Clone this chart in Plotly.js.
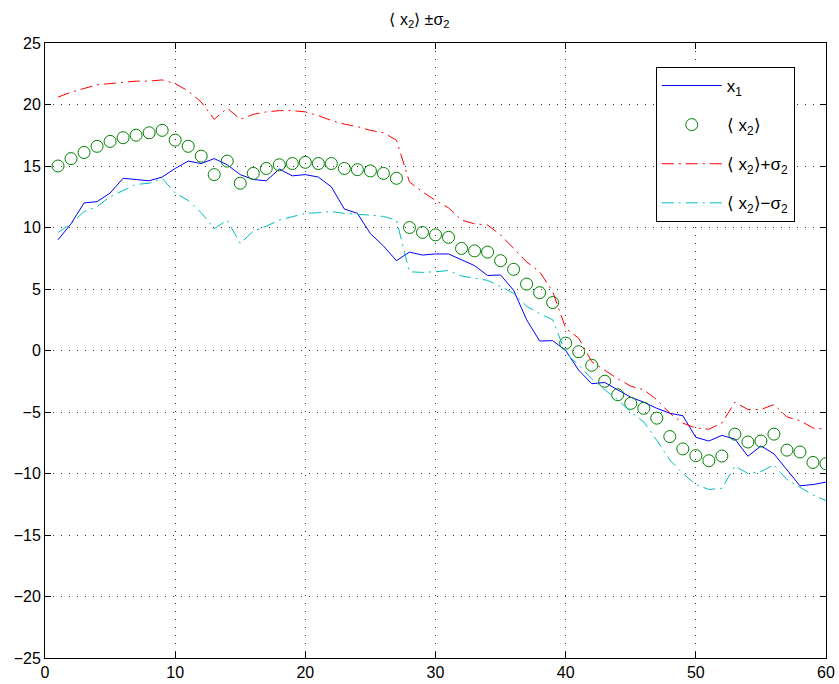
<!DOCTYPE html>
<html>
<head>
<meta charset="utf-8">
<script src="https://cdn.plot.ly/plotly-3.0.1.min.js"></script>
<style>html,body{margin:0;padding:0;background:#fff;}#chart{width:839px;height:684px;}</style>
</head>
<body>
<div id="chart"></div>
<script>
const xs = Array.from({length: 60}, (_, i) => i + 1);

const x1 = [9.0, 10.3, 12.0, 12.1, 12.8, 14.0, 13.9, 13.8, 14.1, 14.8,
            15.4, 15.2, 15.6, 15.1, 14.3, 13.9, 13.8, 14.75, 14.2, 14.3,
            14.1, 13.3, 11.5, 11.15, 9.5, 8.5, 7.3, 8.0, 7.76, 7.85,
            7.85, 7.36, 6.9, 6.1, 6.14, 4.9, 2.5, 0.77, 0.8, 0.0,
            -1.6, -2.7, -2.6, -3.2, -3.8, -4.2, -4.7, -5.1, -5.3, -7.06,
            -7.36, -6.9, -7.2, -8.6, -7.76, -8.4, -9.7, -11.0, -10.9, -10.7];

const meanX2 = [15.0, 15.6, 16.1, 16.6, 17.0, 17.3, 17.5, 17.7, 17.9, 17.1,
                16.6, 15.8, 14.3, 15.4, 13.6, 14.4, 14.8, 15.1, 15.2, 15.3,
                15.2, 15.2, 14.8, 14.7, 14.6, 14.4, 14.0, 10.0, 9.6, 9.4,
                9.2, 8.3, 8.1, 8.0, 7.3, 6.6, 5.4, 4.7, 3.9, 0.6,
                -0.1, -1.2, -2.5, -3.6, -4.3, -4.7, -5.5, -7.0, -8.0, -8.55,
                -8.96, -8.58, -6.8, -7.44, -7.36, -6.8, -8.1, -8.25, -9.1, -9.2];

const plusSigma = [20.6, 21.0, 21.3, 21.6, 21.7, 21.8, 21.9, 21.9, 22.0, 21.7,
                   21.1, 20.2, 18.8, 19.7, 18.8, 19.2, 19.4, 19.5, 19.5, 19.4,
                   19.1, 18.7, 18.4, 18.2, 17.9, 17.7, 17.1, 13.7, 12.9, 12.2,
                   11.6, 10.6, 10.3, 10.2, 9.4, 8.3, 7.2, 6.4, 4.8, 1.8,
                   1.0, -0.9, -1.6, -2.3, -2.9, -3.2, -4.0, -5.1, -5.9, -6.3,
                   -6.4, -5.9, -4.2, -4.8, -4.8, -4.4, -5.4, -5.7, -6.3, -6.4];

const minusSigma = [9.6, 10.3, 11.3, 11.7, 12.5, 13.0, 13.5, 13.6, 14.0, 12.8,
                    12.2, 11.2, 9.9, 10.6, 8.7, 9.7, 10.1, 10.6, 10.9, 11.15,
                    11.2, 11.3, 11.15, 11.1, 11.0, 10.9, 10.6, 6.4, 6.35, 6.4,
                    6.5, 6.06, 5.9, 5.7, 5.2, 4.65, 3.6, 3.0, 2.5, -0.2,
                    -1.2, -2.3, -3.2, -4.0, -5.0, -5.8, -7.3, -8.9, -10.0, -10.9,
                    -11.3, -11.2, -9.4, -10.0, -9.85, -9.3, -10.5, -11.1, -11.75, -12.2];

const xTicks = [0, 10, 20, 30, 40, 50, 60];
const yTicks = [-25, -20, -15, -10, -5, 0, 5, 10, 15, 20, 25];

const FONT = 'Liberation Sans, Arial, Helvetica, sans-serif';

const traces = [
  {x: xs, y: x1, type: 'scatter', mode: 'lines', name: 'x<sub>1</sub>', legendgroup: 'a',
   line: {color: '#0000ff', width: 1}},
  {x: xs, y: meanX2, type: 'scatter', mode: 'markers', name: '⟨ x<sub>2</sub>⟩', legendgroup: 'b',
   marker: {symbol: 'circle-open', size: 12, color: '#008000', line: {width: 1, color: '#008000'}}},
  {x: xs, y: plusSigma, type: 'scatter', mode: 'lines', name: '⟨ x<sub>2</sub>⟩+σ<sub>2</sub>', legendgroup: 'c',
   line: {color: '#ff0000', width: 1, dash: '12px,5px,2px,5px'}},
  {x: xs, y: minusSigma, type: 'scatter', mode: 'lines', name: '⟨ x<sub>2</sub>⟩−σ<sub>2</sub>', legendgroup: 'd',
   line: {color: '#00bfbf', width: 1, dash: '12px,5px,2px,5px'}}
];

const axisCommon = {
  showline: true, linecolor: '#000', linewidth: 1, mirror: 'ticks',
  ticks: 'inside', ticklen: 6, tickcolor: '#000',
  showgrid: true, gridcolor: '#333', griddash: '1px,7px', gridwidth: 1,
  zeroline: false, tickfont: {family: FONT, size: 16, color: '#000'}
};

const layout = {
  width: 839, height: 684,
  margin: {l: 45, r: 13, t: 43, b: 26},
  paper_bgcolor: '#fff', plot_bgcolor: '#fff',
  font: {family: FONT, color: '#000'},
  title: {text: '⟨ x<sub>2</sub>⟩ ±σ<sub>2</sub>', font: {family: FONT, size: 16, color: '#000'},
          x: 0.5, xanchor: 'center', y: 0.972, yanchor: 'middle'},
  xaxis: Object.assign({}, axisCommon, {range: [0, 60], tickvals: xTicks, ticktext: xTicks.map(String)}),
  yaxis: Object.assign({}, axisCommon, {range: [-25, 25], tickvals: yTicks, ticktext: yTicks.map(v => v < 0 ? '−' + Math.abs(v) : String(v))}),
  showlegend: true,
  legend: {x: 0.782, y: 0.961, xanchor: 'left', yanchor: 'top',
           bgcolor: '#fff', bordercolor: '#000', borderwidth: 1,
           font: {family: FONT, size: 17, color: '#000'},
           itemwidth: 60, tracegroupgap: 14, traceorder: 'grouped'}
};

Plotly.newPlot('chart', traces, layout, {displayModeBar: false, staticPlot: true});
</script>
</body>
</html>
